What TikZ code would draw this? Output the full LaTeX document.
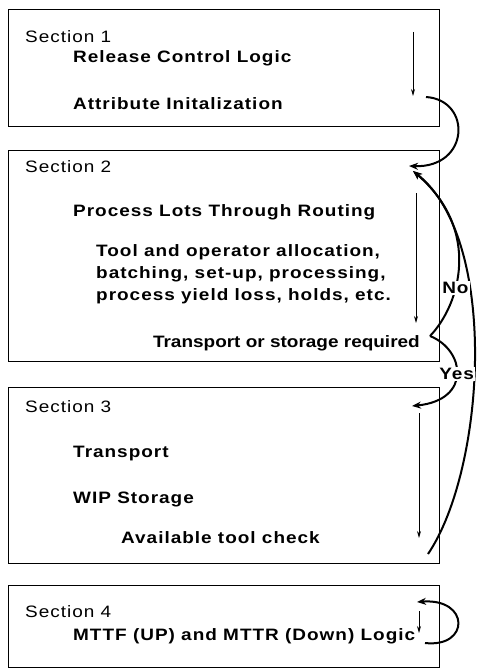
\documentclass[tikz,border=0pt]{standalone}
\usepackage{fontspec}
\setmainfont{Liberation Sans}[FakeStretch=1.15,LetterSpace=6]
\usetikzlibrary{arrows.meta}

\begin{document}
\begin{tikzpicture}[x=1pt,y=-1pt,
    secbox/.style={draw,line width=1.3pt,anchor=north west,inner sep=0pt,minimum width=431pt},
    sec/.style={anchor=base west,inner sep=0pt,font=\fontsize{16.5}{18}\selectfont},
    txt/.style={anchor=base west,inner sep=0pt,font=\fontsize{16.5}{18}\selectfont\bfseries},
    flow/.style={line width=0.8pt,-{Stealth[length=7pt,width=4pt]}},
    loop/.style={line width=2pt,-{Stealth[length=9pt,width=7pt]}},
    lbl/.style={fill=white,inner sep=1pt,font=\fontsize{16.5}{18}\selectfont\bfseries}]
  \useasboundingbox (0,0) rectangle (478,669);
  % the four section boxes
  \node[secbox,minimum height=117pt] (b1) at (8,9) {};
  \node[secbox,minimum height=211pt] (b2) at (8,150) {};
  \node[secbox,minimum height=176pt] (b3) at (8,387) {};
  \node[secbox,minimum height=82pt] (b4) at (8,585) {};
  % texts
  \node[sec] (h1) at (25,43) {Section 1};
  \node[txt] (t11) at (73,63) {Release Control Logic};
  \node[txt] (t12) at (73,109) {Attribute Initalization};
  \node[sec] (h2) at (25,172) {Section 2};
  \node[txt] (t21) at (73,216) {Process Lots Through Routing};
  \node[txt] (t22) at (96,256) {Tool and operator allocation,};
  \node[txt] (t23) at (96,278) {batching, set-up, processing,};
  \node[txt] (t24) at (96,300) {process yield loss, holds, etc.};
  \node[txt,anchor=base east] (t25) at (420,347) {\addfontfeatures{LetterSpace=0}Transport or storage required};
  \node[sec] (h3) at (25,412) {Section 3};
  \node[txt] (t31) at (73,457) {Transport};
  \node[txt] (t32) at (73,503) {WIP Storage};
  \node[txt] (t33) at (121,543) {Available tool check};
  \node[sec] (h4) at (25,617) {Section 4};
  \node[txt] (t41) at (73,640) {MTTF (UP) and MTTR (Down) Logic};
  % thin flow arrows inside the boxes
  \coordinate (f1a) at (413,32);  \coordinate (f1b) at (413,96);
  \coordinate (f2a) at (416,193); \coordinate (f2b) at (416,323);
  \coordinate (f3a) at (419,413); \coordinate (f3b) at (419,538);
  \coordinate (f4a) at (419,611); \coordinate (f4b) at (419,633);
  \draw[flow] (f1a) -- (f1b);
  \draw[flow] (f2a) -- (f2b);
  \draw[flow] (f3a) -- (f3b);
  \draw[flow] (f4a) -- (f4b);
  % loops on the right side
  \coordinate (o1) at (426,97);  \coordinate (i2) at (409,166);
  \coordinate (i2b) at (413,171);
  \coordinate (dec) at (430,336); \coordinate (i3) at (412,406);
  \coordinate (o3) at (428,554);
  \coordinate (o4) at (425,643); \coordinate (i4) at (417,602);
  \draw[loop] (o1) .. controls (472,100) and (470,168) .. (i2);
  \draw[loop] (o3) .. controls (485,470) and (500,240) .. (i2b);
  \draw[loop] (dec) .. controls (460,305) and (482,230) .. node[lbl,pos=0.36] (no) {No} (i2b);
  \draw[loop] (dec) .. controls (465,350) and (472,400) .. node[lbl,pos=0.5] (yes) {Yes} (i3);
  \draw[loop] (o4) .. controls (470,648) and (470,598) .. (i4);
\end{tikzpicture}
\end{document}
